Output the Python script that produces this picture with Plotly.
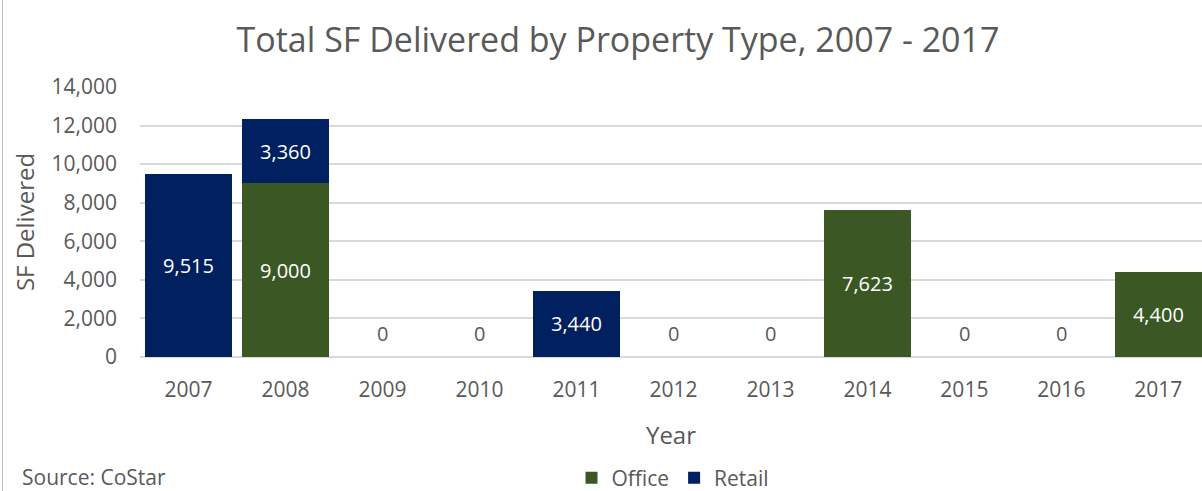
import plotly.graph_objects as go

years = ["2007", "2008", "2009", "2010", "2011", "2012", "2013", "2014", "2015", "2016", "2017"]
office = [0, 9000, 0, 0, 0, 0, 0, 7623, 0, 0, 4400]
retail = [9515, 3360, 0, 0, 3440, 0, 0, 0, 0, 0, 0]
y_ticks = [0, 2000, 4000, 6000, 8000, 10000, 12000, 14000]

GREEN = "#3A5724"
NAVY = "#002060"
GRAY = "#595959"
FONT = "Open Sans"

def lbl(vals):
    return [f"{v:,}" if v > 0 else "" for v in vals]

fig = go.Figure()
fig.add_trace(go.Bar(x=years, y=office, name="Office", marker=dict(color=GREEN, line=dict(width=0)),
                     text=lbl(office), textposition="inside", insidetextanchor="middle",
                     textfont=dict(color="white", size=20, family=FONT), textangle=0))
fig.add_trace(go.Bar(x=years, y=retail, name="Retail", marker=dict(color=NAVY, line=dict(width=0)),
                     text=lbl(retail), textposition="inside", insidetextanchor="middle",
                     textfont=dict(color="white", size=20, family=FONT), textangle=0))

for i, (o, r) in enumerate(zip(office, retail)):
    if o + r == 0:
        fig.add_annotation(x=i, y=0, text="0", showarrow=False, yshift=24,
                           font=dict(color=GRAY, size=20, family=FONT))

PH = 270.0  # plot height in px
PW = 1062.0
fig.add_annotation(xref="paper", yref="paper", x=(20 - 140) / PW, y=(357 - 477) / PH,
                   xanchor="left", yanchor="middle",
                   text="Source: CoStar", showarrow=False, font=dict(color=GRAY, size=21, family=FONT))

fig.add_shape(type="line", xref="paper", yref="paper", x0=(2.5 - 140) / PW, x1=(2.5 - 140) / PW,
              y0=-1, y1=2, line=dict(color="#BFBFBF", width=1))

fig.update_layout(
    width=1202, height=491,
    barmode="stack", bargap=0.11,
    paper_bgcolor="white", plot_bgcolor="white",
    margin=dict(l=140, r=0, t=87, b=134, autoexpand=False),
    title=dict(text="Total SF Delivered by Property Type, 2007 - 2017", x=618 / 1202, xanchor="center",
               y=1 - 40 / 491, yanchor="middle", font=dict(color=GRAY, size=34, family=FONT)),
    font=dict(family=FONT, color=GRAY),
    showlegend=True,
    legend=dict(orientation="h", x=(673 - 140) / PW, xanchor="center", y=(357 - 478) / PH, yanchor="middle",
                font=dict(size=21, color=GRAY, family=FONT), itemwidth=30, traceorder="normal",
                bgcolor="rgba(0,0,0,0)"),
    xaxis=dict(type="category", range=[-0.5, 10.45], showgrid=False, showline=False, ticks="",
               tickfont=dict(size=21, color=GRAY, family=FONT), ticklabelstandoff=18,
               title=dict(text="Year", font=dict(size=24, color=GRAY, family=FONT), standoff=25)),
    yaxis=dict(range=[0, 14000], tickvals=y_ticks, tickformat=",", showgrid=True, gridcolor="#D9D9D9",
               gridwidth=1.5, zeroline=True, zerolinecolor="#D9D9D9", zerolinewidth=1.5,
               tickfont=dict(size=21, color=GRAY, family=FONT), ticks="", ticklen=0, ticklabelstandoff=22,
               title=dict(text="SF Delivered", font=dict(size=24, color=GRAY, family=FONT), standoff=10)),
)
fig.write_html("out.html", config={"displayModeBar": False},
               post_script="document.body.style.margin='0';document.body.style.overflow='hidden';")
